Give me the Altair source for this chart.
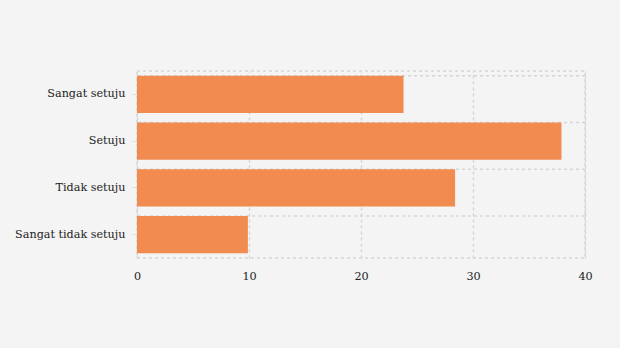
import altair as alt
import pandas as pd

categories = ["Sangat setuju", "Setuju", "Tidak setuju", "Sangat tidak setuju"]
values = [23.8, 37.9, 28.4, 9.9]
x_ticks = [0, 10, 20, 30, 40]

df = pd.DataFrame({"kategori": categories, "nilai": values})

FONT = "DejaVu Serif"
GRID = "#d6d6d6"

y_enc = alt.Y(
    "kategori:N",
    sort=categories,
    title=None,
    scale=alt.Scale(paddingInner=0.2, paddingOuter=0.1),
    axis=alt.Axis(
        grid=False, domain=False, ticks=True, tickSize=5, tickColor="#dddddd",
        labelPadding=7, labelFont=FONT, labelFontSize=11.2, labelColor="#222222",
    ),
)

bars = alt.Chart(df).mark_bar(color="#f27f3d", opacity=0.9).encode(
    x=alt.X(
        "nilai:Q",
        title=None,
        scale=alt.Scale(domain=[0, 40], nice=False),
        axis=alt.Axis(
            values=x_ticks, grid=True, gridColor=GRID, gridDash=[3, 3], gridWidth=1.5,
            domain=False, ticks=False, labelPadding=12, labelFont=FONT,
            labelFontSize=11.2, labelColor="#222222", labelFlush=False,
        ),
    ),
    y=y_enc,
)

rules = alt.Chart(df).mark_rule(color=GRID, strokeDash=[3, 3], strokeWidth=1.5).encode(
    y=alt.Y("kategori:N", sort=categories, bandPosition=0),
)

chart = alt.layer(rules, bars).properties(
    width=448,
    height=187,
    background="#f4f4f4",
    autosize=alt.AutoSizeParams(type="none"),
    padding={"left": 137, "top": 71, "right": 35, "bottom": 90},
).configure_view(
    stroke=GRID, strokeDash=[3, 3], strokeWidth=1.5,
)

chart.save("out.html", embed_options={"renderer": "svg", "actions": False})
